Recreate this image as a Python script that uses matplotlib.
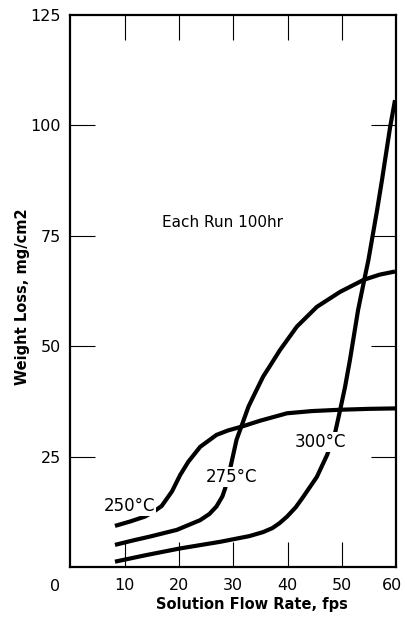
import matplotlib
matplotlib.use("Agg")
import matplotlib.pyplot as plt
from matplotlib.transforms import ScaledTranslation

# curves: flow rate (fps) vs weight loss (mg/cm2)
x_250 = [8.2, 11.0, 13.7, 15.3, 16.8, 18.7, 20.2, 21.7, 23.9, 26.9, 29.0, 31.6, 34.9, 39.9,
         44.5, 49.7, 55.0, 59.8]
y_250 = [9.3, 10.3, 11.4, 12.5, 13.8, 17.1, 20.8, 23.8, 27.2, 29.9, 30.9, 31.8, 33.1, 34.8,
         35.3, 35.6, 35.8, 35.9]

x_275 = [8.2, 11.5, 14.7, 19.6, 23.9, 25.6, 26.9, 28.0, 28.5, 29.1, 29.7, 30.6, 31.6, 32.8,
         33.7, 35.5, 36.8, 38.6, 41.7, 45.4, 49.7, 54.0, 57.0, 59.8]
y_275 = [5.0, 6.0, 6.9, 8.4, 10.6, 12.0, 13.7, 16.0, 17.8, 20.5, 23.8, 28.8, 32.2, 36.3,
         38.6, 43.1, 45.6, 49.1, 54.4, 58.9, 62.3, 65.0, 66.2, 66.9]

x_300 = [8.2, 14.0, 20.2, 27.6, 33.0, 35.5, 37.2, 38.5, 39.9, 41.5, 42.9, 45.4, 47.3, 48.0,
         48.8, 49.7, 50.6, 51.5, 53.0, 54.2, 54.9, 56.5, 57.4, 58.9, 59.8]
y_300 = [1.2, 2.7, 4.2, 5.7, 7.0, 7.9, 8.8, 9.9, 11.4, 13.5, 15.9, 20.4, 25.4, 27.9,
         30.6, 35.6, 40.8, 46.9, 58.2, 65.4, 69.5, 80.8, 87.6, 99.6, 105.7]

x_ticks = [10, 20, 30, 40, 50, 60]
y_ticks = [25, 50, 75, 100, 125]

plt.rcParams["font.family"] = ["DejaVu Sans"]

fig = plt.figure(figsize=(4.05, 6.21), dpi=100)
ax = fig.add_axes([0.174, 0.087, 0.804, 0.889])

for xs, ys in [(x_250, y_250), (x_275, y_275), (x_300, y_300)]:
    ax.plot(xs, ys, color="black", lw=3.0, solid_capstyle="butt",
            solid_joinstyle="round", zorder=2)

ax.set_xlim(0, 60)
ax.set_ylim(0, 125)
ax.set_xticks(x_ticks)
ax.set_yticks(y_ticks)
ax.tick_params(direction="in", length=18, width=0.8, top=True, right=True,
               labelsize=11.5, color="black")
ax.tick_params(axis="x", pad=8)
ax.tick_params(axis="y", pad=7)
# no tick marks where the frame itself sits (60 and 125)
for t in ax.xaxis.get_major_ticks()[-1:]:
    t.tick1line.set_visible(False)
    t.tick2line.set_visible(False)
for t in ax.yaxis.get_major_ticks()[-1:]:
    t.tick1line.set_visible(False)
    t.tick2line.set_visible(False)

# keep the "60" inside the figure edge
last = ax.get_xticklabels()[-1]
last.set_transform(last.get_transform() + ScaledTranslation(-3 / 72, 0, fig.dpi_scale_trans))

for s in ax.spines.values():
    s.set_linewidth(1.6)

ax.annotate("0", xy=(0, 0), xytext=(-11, -14), textcoords="offset points",
            ha="center", va="center", fontsize=11.5)

ax.set_xlabel("Solution Flow Rate, fps", fontsize=10.5, fontweight="bold")
ax.xaxis.set_label_coords(0.558, -0.054)
ax.set_ylabel("Weight Loss, mg/cm2", fontsize=10.5, fontweight="bold")
ax.yaxis.set_label_coords(-0.125, 0.49)

lbl = dict(ha="center", va="center", fontsize=12, zorder=3,
           bbox=dict(facecolor="white", edgecolor="none", pad=1))
ax.text(28, 77.9, "Each Run 100hr", ha="center", va="center", fontsize=11)
ax.text(10.8, 13.8, "250°C", **lbl)
ax.text(29.6, 20.4, "275°C", **lbl)
ax.text(46.0, 28.3, "300°C", **lbl)

fig.savefig("out.png", dpi=100)
